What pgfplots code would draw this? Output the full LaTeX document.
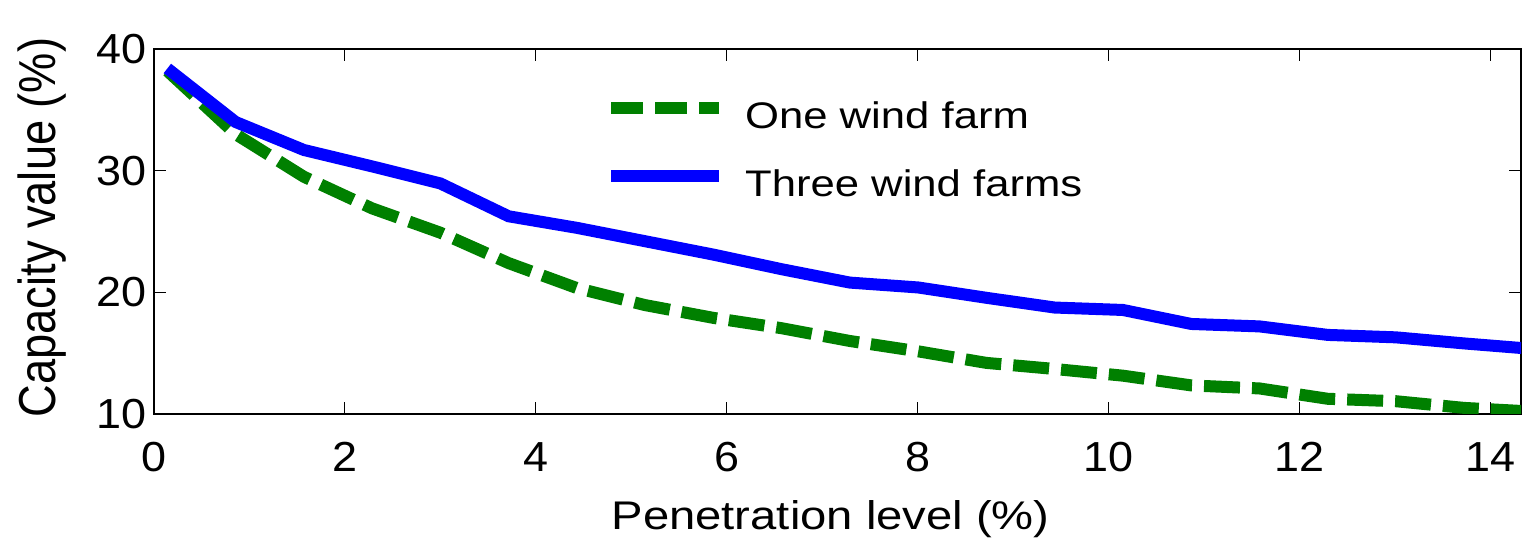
\documentclass[border=0pt]{standalone}
\usepackage{fontspec}
\setmainfont[FakeStretch=1.18]{Liberation Sans}
\newfontfamily\tickfont[FakeStretch=1.07]{Liberation Sans}
\newfontfamily\ylfont[FakeStretch=0.87]{Liberation Sans}
\usepackage{pgfplots}
\pgfplotsset{compat=1.18}
\definecolor{mgreen}{RGB}{0,128,0}
\definecolor{mblue}{RGB}{0,0,255}
\begin{document}
\begin{tikzpicture}
\begin{axis}[
  name=ax, at={(0,0)}, anchor=south west,
  scale only axis, width=683.5pt, height=182.5pt,
  xmin=0, xmax=14.32, ymin=10, ymax=40,
  xtick={0,2,4,6,8,10,12,14}, ytick={10,20,30,40},
  tick align=inside, major tick length=6pt,
  every tick/.style={black, line width=0.5pt},
  axis line style={line width=0.8pt},
  /pgf/number format/assume math mode=true,
  tick label style={font=\tickfont\fontsize{21}{24}\selectfont, inner sep=0pt},
  xticklabel style={anchor=north},
  yticklabel style={anchor=east},
  xticklabel shift=14pt,
  yticklabel shift=3.5pt,
  xlabel={Penetration level (\%)},
  ylabel={Capacity value (\%)},
  xlabel style={at={(axis description cs:0.495,-0.2356)}, anchor=north, inner sep=0pt,
    font=\fontsize{20}{23}\selectfont},
  ylabel style={at={(axis description cs:-0.0636,0.511)}, anchor=south, rotate=0, inner sep=0pt,
    font=\ylfont\fontsize{26}{30}\selectfont},
  legend style={at={(rel axis cs:0.330,0.855)}, anchor=north west, draw=none, fill=none,
    inner sep=0pt, outer sep=0pt,
    font=\fontsize{18.5}{21}\selectfont, row sep=16.5pt, column sep=0pt,
    nodes={inner sep=0pt, text height=13pt, text depth=4pt}},
  legend cell align=left,
  legend image code/.code={\draw[#1] (0pt,6pt) -- (54pt,6pt); \path (64pt,6pt);},
]
\addplot[mgreen, line width=6pt, dash pattern=on 18pt off 6pt,
  legend image code/.code={\draw[mgreen, line width=6pt, dash pattern=on 16pt off 6pt] (0pt,6pt) -- (54pt,6pt); \path (64pt,6pt);}] coordinates {
(0.14,38.2) (0.855,33.0) (1.57,29.5) (2.285,26.9) (3.0,24.9) (3.715,22.4)
(4.43,20.35) (5.145,18.95) (5.86,17.9) (6.575,17.05) (7.29,16.0) (8.005,15.15)
(8.72,14.2) (9.435,13.7) (10.15,13.15) (10.865,12.35) (11.58,12.1) (12.295,11.25)
(13.01,11.05) (13.725,10.5) (14.44,10.2)};
\addlegendentry{One wind farm}
\addplot[mblue, line width=6pt] coordinates {
(0.14,38.4) (0.855,34.0) (1.57,31.7) (2.285,30.35) (3.0,28.95) (3.715,26.25)
(4.43,25.3) (5.145,24.2) (5.86,23.1) (6.575,21.9) (7.29,20.8) (8.005,20.4)
(8.72,19.55) (9.435,18.75) (10.15,18.55) (10.865,17.4) (11.58,17.2) (12.295,16.5)
(13.01,16.3) (13.725,15.8) (14.44,15.35)};
\addlegendentry{Three wind farms}
\end{axis}
\pgfresetboundingbox
\path[use as bounding box] ([shift={(-77pt,-65.5pt)}]ax.south west) rectangle ([shift={(689pt,207pt)}]ax.south west);
\end{tikzpicture}
\end{document}
